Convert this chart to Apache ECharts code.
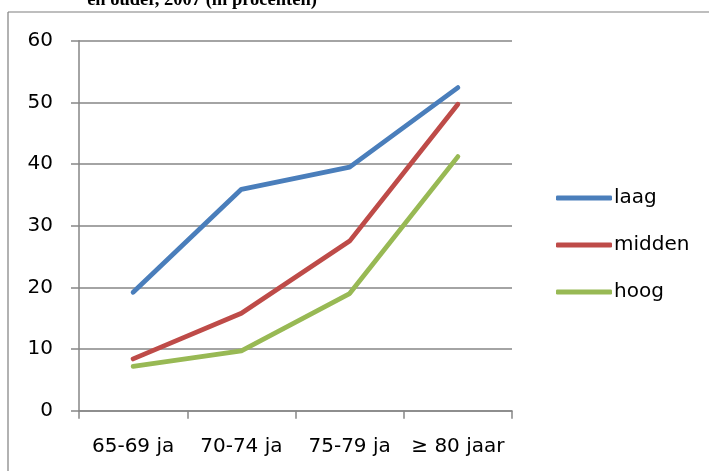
<!DOCTYPE html>
<html>
<head>
<meta charset="utf-8">
<script src="https://cdn.jsdelivr.net/npm/echarts@6/dist/echarts.min.js"></script>
<style>html,body{margin:0;padding:0;background:#fff}#c{width:709px;height:471px}</style>
</head>
<body>
<div id="c"></div>
<script>
var categories = ['65-69 ja', '70-74 ja', '75-79 ja', '≥ 80 jaar'];
var laag = [19.2, 35.9, 39.5, 52.4];
var midden = [8.4, 15.8, 27.5, 49.7];
var hoog = [7.2, 9.7, 19.0, 41.2];
var seriesNames = ['laag', 'midden', 'hoog'];
var titleText = 'en ouder, 2007 (in procenten)';

var chart = echarts.init(document.getElementById('c'), null, {renderer: 'canvas'});
var gridColor = '#868686';
var font = 'DejaVu Sans';
function mk(name, data, color) {
  return {
    name: name, type: 'line', data: data, symbol: 'none', color: color,
    lineStyle: {width: 4.8, color: color, cap: 'round', join: 'round'},
    itemStyle: {color: color}
  };
}
chart.setOption({
  animation: false,
  backgroundColor: '#fff',
  grid: {left: 79, right: 197, top: 40.7, bottom: 60.3},
  xAxis: {
    type: 'category', data: categories, boundaryGap: true,
    axisLine: {show: true, lineStyle: {color: gridColor, width: 1.5}},
    axisTick: {show: true, length: 8, interval: 0, alignWithLabel: false, lineStyle: {color: gridColor, width: 1.5}},
    axisLabel: {color: '#000', fontFamily: font, fontSize: 20, margin: 26, interval: 0},
    splitLine: {show: false}
  },
  yAxis: {
    type: 'value', min: 0, max: 60, interval: 10,
    axisLine: {show: true, lineStyle: {color: gridColor, width: 1.5}},
    axisTick: {show: true, length: 8, lineStyle: {color: gridColor, width: 1.5}},
    axisLabel: {color: '#000', fontFamily: font, fontSize: 20, margin: 26},
    splitLine: {show: true, lineStyle: {color: gridColor, width: 1.5}}
  },
  legend: {
    orient: 'vertical', left: 551, top: 183, itemGap: 27,
    itemWidth: 56, itemHeight: 5, icon: 'roundRect',
    textStyle: {color: '#000', fontFamily: font, fontSize: 20, padding: [0,0,0,-3]},
    data: seriesNames
  },
  graphic: [
    {type: 'line', shape: {x1: 8, y1: 12, x2: 709, y2: 12}, style: {stroke: '#7f7f7f', lineWidth: 1.2}, silent: true},
    {type: 'line', shape: {x1: 8, y1: 12, x2: 8, y2: 471}, style: {stroke: '#7f7f7f', lineWidth: 1.2}, silent: true},
    {type: 'text', x: 202, y: 0, silent: true,
     style: {text: titleText, font: 'bold 18.5px "Liberation Serif"', fill: '#000', align: 'center', verticalAlign: 'middle'}}
  ],
  series: [
    mk(seriesNames[0], laag, '#4A7EBB'),
    mk(seriesNames[1], midden, '#BE4B48'),
    mk(seriesNames[2], hoog, '#98B954')
  ]
});
</script>
</body>
</html>
